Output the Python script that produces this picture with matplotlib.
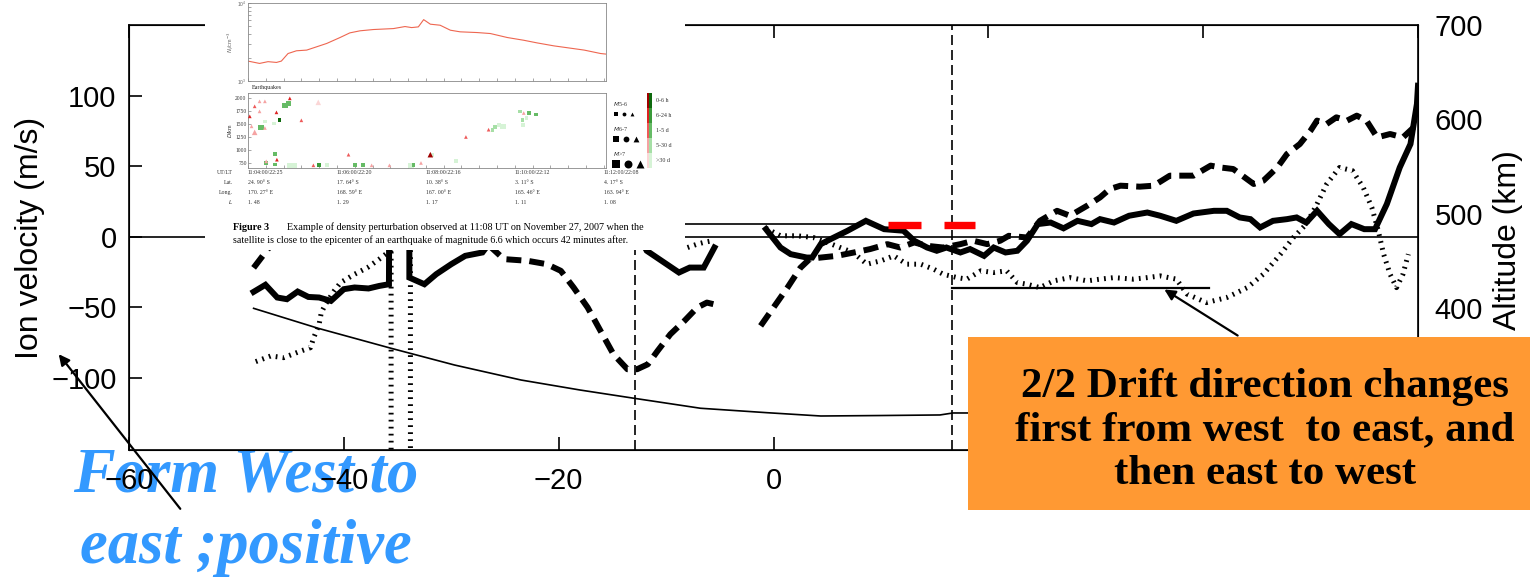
import numpy as np
import matplotlib
matplotlib.use("Agg")
import matplotlib.pyplot as plt
from matplotlib.patches import Rectangle, FancyArrowPatch
from matplotlib.ticker import MultipleLocator, NullFormatter
from matplotlib.colors import to_rgb
from matplotlib.transforms import blended_transform_factory

# ---------------- main chart data (longitude deg, ion velocity m/s) ----------------
solid_a_x = [-48.4, -47.3, -46.2, -45.3, -44.3, -43.3, -42.3, -41.2, -40.0, -39.0, -37.7,
             -36.7, -35.8, -35.7, -33.9, -33.9, -32.5, -31.4, -30.0, -28.7, -27.1, -26.0]
solid_a_v = [-39.0, -34.0, -43.0, -44.2, -38.8, -42.6, -43.0, -45.4, -37.1, -35.9, -36.6,
             -34.8, -33.6, 160, 160, -28.9, -33.6, -26.5, -19.4, -13.5, -11.1, 0]
solid_b_x = [-12.5, -11.8, -8.8, -7.8, -6.5, -5.5]
solid_b_v = [0, -9.9, -25.3, -21.8, -21.8, -7.6]
solid_c_x = [-0.7, 0.65, 1.6, 3.1, 3.6, 4.4, 5.3, 6.9, 8.6, 10.3,
             12.1, 13.1, 14.3, 15.2, 16.1, 17.4, 18.3, 19.6, 20.5, 21.6,
             22.7, 23.6, 24.6, 25.8, 27.0, 28.3, 29.6, 30.4, 31.7, 33.1,
             34.8, 36.0, 37.5, 39.1, 41.0, 42.2, 43.4, 44.4, 45.3, 46.5,
             47.8, 48.7, 49.6, 50.6, 51.7, 52.7, 53.8, 55.0, 56.0, 57.1,
             58.3, 59.3, 59.9, 60.0]
solid_c_v = [5.4, -7.6, -12.3, -14.7, -14.7, -5.2, -1.7, 4.3, 11.3, 5.4,
             4.3, -2.8, -7.6, -9.9, -7.6, -11.1, -8.7, -13.5, -7.6, -11.1,
             -9.9, -2.8, 9.0, 10.1, 6.0, 11.3, 9.0, 12.5, 10.1, 14.9,
             17.2, 14.9, 11.3, 16.5, 18.4, 18.4, 13.7, 12.5, 6.6, 11.3,
             12.5, 13.7, 10.1, 18.4, 9.0, 1.9, 9.0, 5.4, 5.4, 23.2,
             49.1, 65.7, 94.1, 107]

dash_a_x = [-48.4, -47.4, -46.6]
dash_a_v = [-22, -12, -4]
dash_b_x = [-26.5, -25.1, -22.9, -21.1, -19.8, -18.6, -17.3, -16.1, -14.9, -13.6,
            -12.7, -11.7, -10.8, -9.6, -8.3, -7.1, -6.2, -5.6]
dash_b_v = [-6, -15.8, -17.0, -19.4, -24.1, -36.0, -50.1, -66.7, -83.2, -93.8,
            -93.8, -90.3, -80.9, -69.0, -59.6, -50.1, -46.6, -47.7]
dash_c_x = [-1.2, 0.0, 1.3, 2.5, 3.4, 4.4, 5.9, 7.5, 9.0, 10.6,
            11.8, 13.1, 14.3, 15.8, 17.4, 18.6, 19.9, 21.1, 21.9, 23.6,
            24.8, 26.4, 27.6, 29.2, 30.4, 31.3, 32.3, 34.1, 35.4, 36.9,
            39.1, 40.7, 41.6, 42.8, 44.7, 45.6, 46.9, 47.8, 49.0, 50.0,
            50.6, 51.5, 52.4, 53.4, 54.3, 55.2, 56.2, 57.4, 58.6, 59.6]
dash_c_v = [-63.1, -50.1, -36.0, -22.0, -15.5, -14.7, -13.5, -11.1, -8.7, -5.2,
            -7.6, -4.0, -6.4, -7.6, -5.2, -2.8, -5.2, -2.8, 0.7, -0.5,
            11.3, 18.4, 14.9, 22.0, 27.9, 33.8, 36.2, 35.5, 36.2, 43.3,
            43.3, 50.4, 49.1, 48.0, 37.4, 39.7, 49.1, 58.6, 65.7, 75.2,
            82.3, 79.9, 84.6, 82.3, 85.8, 82.3, 70.4, 72.8, 70.4, 77.5]

dot_a_x = [-48.2, -46.8, -45.6, -44.0, -43.1, -42.8, -42.3, -42.1, -41.7, -40.9,
           -40.3, -39.0, -37.8, -36.7, -35.9, -35.6, -35.6, -33.8, -33.8]
dot_a_v = [-88.4, -84.4, -85.6, -80.9, -78.5, -71.4, -61.9, -53.7, -47.7, -38.3,
           -32.4, -26.5, -21.8, -15.8, -11.1, -11.1, -160, -160, 0]
dot_b_x = [-8.0, -7.1, -6.5, -5.7]
dot_b_v = [-7.6, -5.2, -4.0, -2.8]
dot_c_x = [-0.7, 0.65, 2.2, 3.7, 5.0, 6.2, 7.4, 8.7, 10.0, 11.2,
           12.4, 13.7, 14.9, 15.8, 17.1, 18.0, 19.3, 20.5, 21.7, 22.7,
           23.6, 24.8, 26.1, 27.6, 29.2, 30.4, 31.7, 33.5, 34.8, 36.0,
           37.5, 38.5, 40.3, 42.2, 44.1, 45.6, 47.2, 48.4, 49.6, 50.6,
           51.5, 52.7, 53.9, 54.9, 55.7, 56.3, 56.8, 57.4, 58.0, 58.6, 59.1]
dot_c_v = [6.0, 0.7, 0.7, -0.5, -4.0, -7.6, -11.1, -19.4, -17.0, -13.5,
           -19.4, -19.4, -22.9, -26.5, -28.9, -30.0, -24.1, -25.3, -24.1, -32.4,
           -33.6, -36.0, -31.2, -28.9, -31.2, -30.0, -28.9, -30.0, -28.9, -27.7,
           -30.0, -40.6, -46.6, -43.0, -36.0, -26.5, -12.3, -0.5, 9.0, 23.2,
           37.4, 49.1, 46.8, 35.0, 20.8, 4.3, -12.3, -26.5, -36.0, -26.5, -12.3]

# satellite altitude (km), right axis
alt_x = [-48.4, -42.4, -35.6, -29.7, -23.5, -18.0, -13.0, -6.8, -0.6, 4.4, 10.0, 15.5, 16.7, 20.0]
alt_km = [400.0, 378.9, 357.7, 340.0, 324.1, 313.5, 304.8, 294.2, 289.5, 286.0, 286.5, 287.1, 289.2, 289.2]

# reference lines / marks
vlines_x = [-12.9, 16.65]
hline_upper = (-8.2, 8.1, 9.0)      # x0, x1, v
hline_lower = (16.6, 40.5, -36.4)
red_marks = [(10.7, 13.7), (15.9, 18.8)]
red_mark_v = 8.7

x_ticks = [-60, -40, -20, 0, 20, 40, 60]
x_ticklabels = ['\u221260', '\u221240', '\u221220', '0', '', '', '']   # 20..60 sit under the orange box
v_ticks = [-100, -50, 0, 50, 100]
alt_ticks = [400, 500, 600, 700]                                    # 300 sits under the orange box

# ---------------- inset (pasted paper figure) data ----------------
den_t = [4.0, 4.26, 4.45, 4.64, 4.75, 4.90, 5.09, 5.32, 5.54, 5.77, 6.07, 6.29, 6.52, 6.82,
         7.27, 7.53, 7.68, 7.83, 7.95, 8.10, 8.32, 8.55, 8.77, 9.15, 9.45, 9.83, 10.20,
         10.50, 10.88, 11.18, 11.56, 11.93, 12.06]
den_ni = [1800, 1680, 1770, 1730, 1800, 2250, 2440, 2490, 2740, 3030, 3610, 4140, 4400, 4570,
          4700, 4990, 4840, 4940, 6120, 5350, 5190, 4480, 4270, 4180, 4060, 3610, 3330,
          3080, 2820, 2670, 2490, 2250, 2210]

tri_t = [4.04, 4.08, 4.15, 4.26, 4.38, 4.26, 4.15, 4.38, 4.64, 4.94, 5.20, 5.58, 4.41, 4.65,
         5.47, 6.26, 6.78, 7.18, 7.89, 8.10, 8.90, 9.41, 10.2]
tri_d = [1650, 1456, 1845, 1942, 1942, 1747, 1339, 1424, 1728, 2000, 1573, 1922, 776, 808,
         698, 905, 698, 698, 744, 905, 1249, 1391, 1715]
tri_c = [1, 3, 2, 3, 3, 3, 3, 3, 1, 1, 2, 4, 3, 1, 2, 2, 3, 3, 3, 0, 2, 2, 3]
tri_k = [0, 0, 0, 0, 0, 0, 1, 0, 0, 0, 0, 1, 0, 0, 0, 0, 0, 0, 0, 1, 0, 0, 0]

sq_t = [4.29, 4.38, 4.59, 4.71, 4.83, 4.91, 4.41, 4.60, 4.60, 4.94, 5.05, 5.59, 5.77, 6.41,
        6.59, 7.66, 7.72, 8.14, 8.68, 9.50, 9.56, 9.65, 9.73, 10.11, 10.17, 10.19, 10.26,
        10.32, 10.47]
sq_d = [1437, 1553, 1508, 1573, 1864, 1896, 743, 711, 918, 698, 698, 698, 698, 698,
        698, 698, 698, 905, 776, 1391, 1443, 1488, 1456, 1747, 1585, 1488, 1618, 1715, 1683]
sq_c = [2, 4, 4, 0, 2, 2, 2, 2, 2, 4, 4, 1, 4, 2, 2, 4, 2, 4, 4, 3, 3, 4, 4, 3, 3, 4, 4, 2, 2]
sq_k = [1, 0, 0, 0, 1, 1, 0, 0, 0, 1, 1, 0, 0, 0, 0, 1, 0, 0, 0, 0, 0, 0, 1, 0, 0, 0, 0, 0, 0]

RED = ['#A00000', '#DD2222', '#EE5A5A', '#F5A3A3', '#FBD6D6']
GREEN = ['#0E6A0E', '#3A9A3A', '#66BB66', '#A6DFA6', '#D6F3D6']
MSIZE = [7, 16, 30]
delay_labels = ['0-6 h', '6-24 h', '1-5 d', '5-30 d', '>30 d']
mag_labels = ['$M$5-6', '$M$6-7', '$M$>7']

time_ticks = [4, 6, 8, 10, 12]
ut_labels = ['11:04:00/22:25', '11:06:00/22:20', '11:08:00/22:16', '11:10:00/22:12', '11:12:00/22:08']
lat_labels = ['24. 90\u00b0 S', '17. 64\u00b0 S', '10. 38\u00b0 S', '3. 11\u00b0 S', '4. 17\u00b0 S']
long_labels = ['170. 27\u00b0 E', '168. 59\u00b0 E', '167. 00\u00b0 E', '165. 46\u00b0 E', '163. 94\u00b0 E']
l_labels = ['1. 48', '1. 29', '1. 17', '1. 11', '1. 08']

# ---------------- figure ----------------
W, H = 1530, 577
SANS = ['Liberation Sans', 'DejaVu Sans']
SERIF = ['Liberation Serif', 'DejaVu Serif']
plt.rcParams['font.family'] = SANS


def fx(px):
    return px / W


def fy(py):
    return 1 - py / H


fig = plt.figure(figsize=(W / 100, H / 100), dpi=100)
fig.patch.set_facecolor('white')

ax = fig.add_axes([fx(129), fy(450), fx(1418) - fx(129), fy(25) - fy(450)])
ax.set_xlim(-60, 60)
ax.set_ylim(-151, 150)
ax.set_xticks(x_ticks)
ax.set_xticklabels(x_ticklabels)
ax.set_yticks(v_ticks)
ax.tick_params(direction='in', length=9.5, width=1.2, top=True, right=True, labelsize=21)
ax.tick_params(axis='x', pad=12)
ax.tick_params(axis='y', pad=9)
for s in ax.spines.values():
    s.set_linewidth(1.2)

ax.axhline(0, color='black', lw=1.2, zorder=1)
ax.plot(hline_upper[:2], [hline_upper[2]] * 2, color='black', lw=1.2)
ax.plot(hline_lower[:2], [hline_lower[2]] * 2, color='black', lw=1.6)
for xv in vlines_x:
    ax.axvline(xv, color='black', lw=1.2, dashes=(6, 3))

dot_kw = dict(color='black', lw=3.6, dashes=(0.35, 1.05))
for xs, vs in [(dot_a_x, dot_a_v), (dot_b_x, dot_b_v), (dot_c_x, dot_c_v)]:
    ax.plot(xs, vs, **dot_kw)
dash_kw = dict(color='black', lw=4.3, dashes=(2.5, 1.35))
for xs, vs in [(dash_a_x, dash_a_v), (dash_b_x, dash_b_v), (dash_c_x, dash_c_v)]:
    ax.plot(xs, vs, **dash_kw)
for xs, vs in [(solid_a_x, solid_a_v), (solid_b_x, solid_b_v), (solid_c_x, solid_c_v)]:
    ax.plot(xs, vs, color='black', lw=4.3, solid_joinstyle='miter')
for x0, x1 in red_marks:
    ax.plot([x0, x1], [red_mark_v, red_mark_v], color='#FF0000', lw=5.3,
            solid_capstyle='butt', zorder=5)

ax2 = ax.twinx()
ax2.set_ylim(250, 700)
ax2.set_yticks(alt_ticks)
ax2.set_yticks([400, 500], minor=True)
ax2.tick_params(which='major', length=0, labelsize=21, pad=12)
ax2.tick_params(which='minor', direction='in', length=9.5, width=1.2)
ax2.plot(alt_x, alt_km, color='black', lw=1.2)

fig.text(fx(30), fy(238), 'Ion velocity (m/s)', rotation=90, ha='center', va='center', size=23)
fig.text(fx(1508), fy(240), 'Altitude (km)', rotation=90, ha='center', va='center', size=23)

# ---------------- pasted paper figure (inset) ----------------
ov = fig.add_axes([fx(205), fy(250), fx(685) - fx(205), fy(0) - fy(250)])
ov.set_zorder(5)
ov.set_xlim(205, 685)
ov.set_ylim(250, 0)
ov.set_xticks([])
ov.set_yticks([])
for s in ov.spines.values():
    s.set_visible(False)

GRAY = '#666666'
top = fig.add_axes([fx(248), fy(81), fx(606) - fx(248), fy(3) - fy(81)])
top.set_zorder(6)
top.semilogy(den_t, den_ni, color='#EE6650', lw=0.8)
top.set_xlim(4, 12.05)
top.set_ylim(1e3, 1e4)
top.set_xticks(time_ticks)
top.set_xticklabels([])
top.xaxis.set_minor_locator(MultipleLocator(0.4))
top.yaxis.set_minor_formatter(NullFormatter())
top.tick_params(which='both', direction='in', length=2, width=0.4, colors=GRAY, labelsize=3.5, pad=1)
top.set_ylabel('$N_i$/cm$^{-3}$', fontsize=4, color=GRAY, labelpad=1)
for s in top.spines.values():
    s.set_color('#888888')
    s.set_linewidth(0.6)

bot = fig.add_axes([fx(248), fy(168), fx(606) - fx(248), fy(93) - fy(168)])
bot.set_zorder(6)
bot.set_xlim(4, 12.05)
bot.set_ylim(646, 2104)
bot.set_yticks([750, 1000, 1250, 1500, 1750, 2000])
bot.set_xticks(time_ticks)
bot.set_xticklabels([])
bot.xaxis.set_minor_locator(MultipleLocator(0.4))
bot.tick_params(which='both', direction='in', length=2, width=0.4, colors=GRAY, labelsize=4, pad=1)
for lbl in bot.get_yticklabels():
    lbl.set_family(SERIF)
    lbl.set_color('#333333')
bot.set_ylabel('$D$/km', fontsize=4, color='#333333', labelpad=1)
bot.scatter(sq_t, sq_d, marker='s', s=[MSIZE[k] for k in sq_k],
            c=[GREEN[c] for c in sq_c], linewidths=0, zorder=3)
bot.scatter(tri_t, tri_d, marker='^', s=[MSIZE[k] for k in tri_k],
            c=[RED[c] for c in tri_c], linewidths=0, zorder=4)
for s in bot.spines.values():
    s.set_color('#888888')
    s.set_linewidth(0.6)
ov.text(252, 88, 'Earthquakes', fontsize=4.3, family=SERIF, va='center', color='#222222')

# delay colour bar (red column | green column)
cb = fig.add_axes([fx(647), fy(168), fx(652) - fx(647), fy(93) - fy(168)])
cb.set_zorder(6)
rgb = np.array([[to_rgb(r), to_rgb(g)] for r, g in zip(RED, GREEN)])
cb.imshow(rgb, aspect='auto', interpolation='nearest')
cb.set_xticks([])
cb.set_yticks([])
for s in cb.spines.values():
    s.set_visible(False)
for i, lab in enumerate(delay_labels):
    cb.text(1.8, 1 - (i + 0.5) / len(delay_labels), lab, transform=cb.transAxes,
            fontsize=4.3, family=SERIF, va='center', color='#333333')

# magnitude legend
for j, lab in enumerate(mag_labels):
    y_lab = 104 + 25 * j
    ov.text(613, y_lab, lab, fontsize=4.3, family=SERIF, va='center', color='#333333')
    for m, mk in enumerate(['s', 'o', '^']):
        ov.scatter(616 + m * (8 + 2 * j), y_lab + 10, marker=mk, s=MSIZE[j] * 1.1,
                   color='black', linewidths=0)

# orbit info rows under the earthquake panel
row_tf = blended_transform_factory(bot.transData, ov.transData)
rows = [('UT/LT', ut_labels, 173), ('Lat.', lat_labels, 183),
        ('Long.', long_labels, 192.5), ('$L$', l_labels, 202)]
for head, vals, yrow in rows:
    ov.text(233, yrow, head, fontsize=4.2, family=SERIF, ha='right', va='center', color='#333333')
    for t, v in zip(time_ticks, vals):
        bot.text(t, yrow, v, transform=row_tf, fontsize=4.2, family=SERIF,
                 va='center', color='#333333', clip_on=False)

ov.text(233, 227, 'Figure 3', fontsize=7.3, family=SERIF, weight='bold', va='center')
ov.text(287, 227, 'Example of density perturbation observed at 11:08 UT on November 27, 2007 when the',
        fontsize=7.3, family=SERIF, va='center')
ov.text(233, 240, 'satellite is close to the epicenter of an earthquake of magnitude 6.6 which occurs 42 minutes after.',
        fontsize=7.2, family=SERIF, va='center')

# ---------------- slide annotations ----------------
fig.add_artist(Rectangle((fx(968), fy(510)), fx(1530) - fx(968), fy(337) - fy(510),
                         transform=fig.transFigure, facecolor='#FF9933', edgecolor='none', zorder=10))
box_lines = ['2/2 Drift direction changes', 'first from west  to east, and', 'then east to west']
for line, yb in zip(box_lines, [397, 440, 484]):
    fig.text(fx(1265), fy(yb), line, ha='center', va='baseline', family=SERIF,
             weight='bold', size=31, zorder=12)

for line, yb in zip(['Form West to', 'east ;positive'], [492, 563]):
    fig.text(fx(246), fy(yb), line, ha='center', va='baseline', family=SERIF,
             weight='bold', style='italic', size=45, color='#3399FF', zorder=-1)

for tail, head in [((182, 511), (57, 352)), ((1240, 337), (1162, 288))]:
    fig.add_artist(FancyArrowPatch((fx(tail[0]), fy(tail[1])), (fx(head[0]), fy(head[1])),
                                   transform=fig.transFigure, arrowstyle='-|>',
                                   mutation_scale=16, lw=1.6, color='black', zorder=11))

fig.savefig('out.png', dpi=100)
